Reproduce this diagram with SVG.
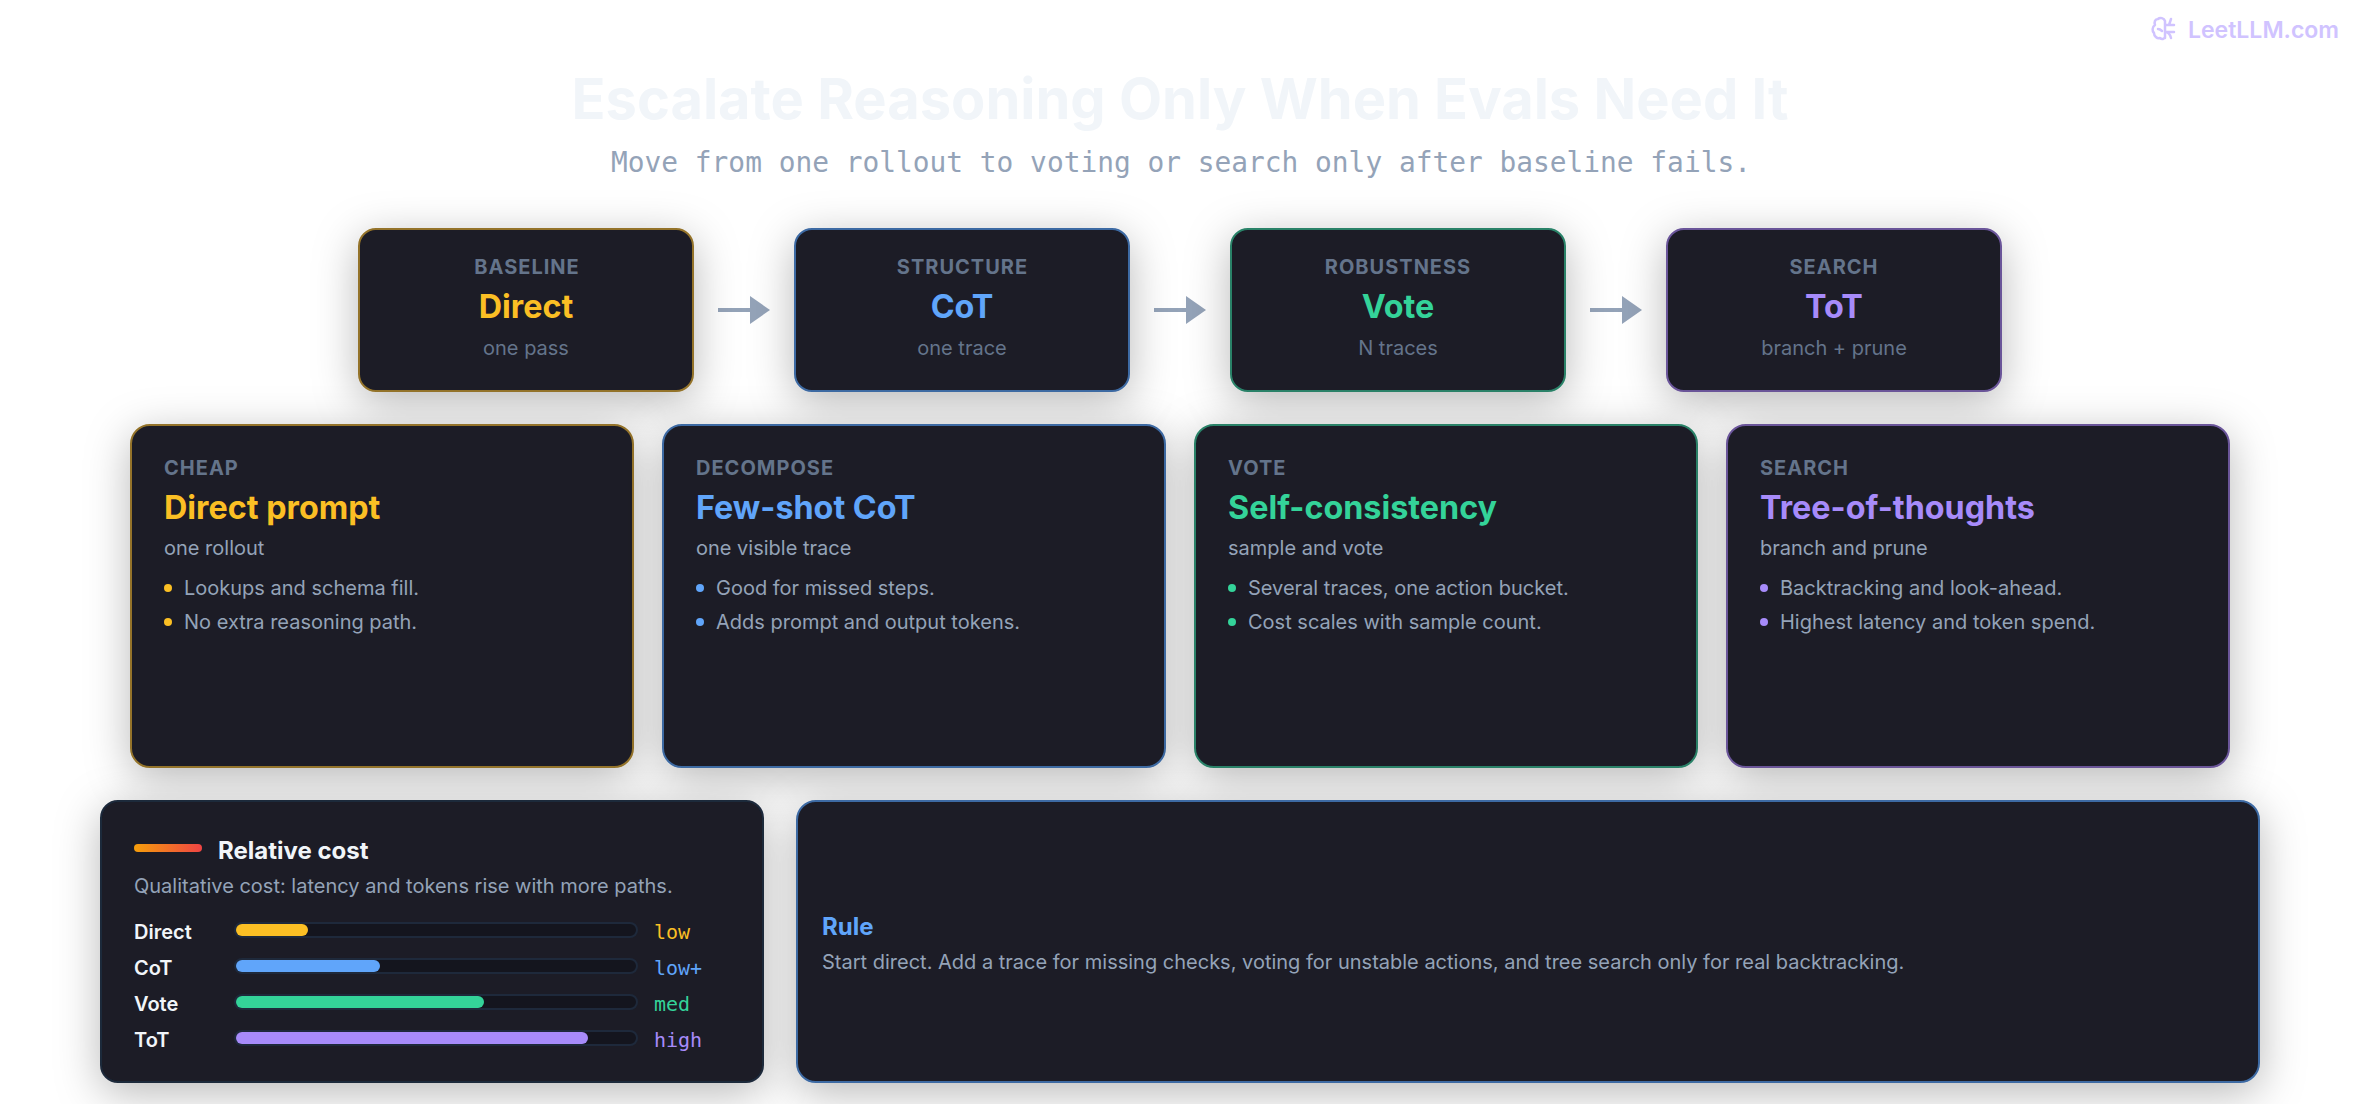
<svg xmlns="http://www.w3.org/2000/svg" width="2360" height="1104" viewBox="0 0 2360 1104">
<style>
text{font-family:Inter,"Noto Sans",sans-serif}
.mono{font-family:"DejaVu Sans Mono","Liberation Mono",monospace}
.card{fill:#1a1b26;stroke-width:2;filter:url(#sh)}
.gold{stroke:#94732a}.blue{stroke:#3e6aa3}.green{stroke:#2a8268}.purple{stroke:#6a5499}.slate{stroke:#1e293b}
.tgold{fill:#fbbf24}.tblue{fill:#60a5fa}.tgreen{fill:#34d399}.tpurple{fill:#a78bfa}
.eyebrow{font-size:20px;font-weight:700;letter-spacing:1px;fill:#64748b}
.name{font-size:32.3px;font-weight:700}
.sub{font-size:20px;fill:#64748b}
.msub{font-size:20px;fill:#94a3b8}
.li{font-size:20px;fill:#94a3b8}
.c{text-anchor:middle}
.row{font-size:20px;font-weight:600;fill:#f1f5f9}
.val{font-size:20px}
.track{fill:#14151e;stroke:#1e293b;stroke-width:2}
.arrow{stroke:#94a3b8;stroke-width:4;fill:none}
.head{fill:#94a3b8}
</style>
<defs>
<filter id="sh" x="-30%" y="-30%" width="160%" height="170%"><feDropShadow dx="0" dy="10" stdDeviation="22" flood-color="#000" flood-opacity="0.28"/></filter>
<linearGradient id="grad" x1="0" x2="1" y1="0" y2="0"><stop offset="0" stop-color="#f59e0b"/><stop offset="1" stop-color="#ef4444"/></linearGradient>
</defs>
<rect width="2360" height="1104" fill="#ffffff"/>
<g id="logo">
<path d="M2165 21c-1-3-5-4-7-2-3 0-4 3-3 6-3 2-3 6-1 8 0 3 3 6 6 5 2 2 4 1 5-1zM2165 21v17M2158 29c2 0 3 1 4 2M2165 25h9M2165 32h9M2165 32c3 0 5 2 6 6M2171 19l-2 6" fill="none" stroke="#d0c3ff" stroke-width="2.5" stroke-linecap="round" stroke-linejoin="round"/>
<text x="2188" y="38" font-size="23" font-weight="600" fill="#d0c3ff">LeetLLM.com</text>
</g>
<text id="title" x="1180" y="119" class="c" font-size="56" font-weight="700" fill="#f1f5f9">Escalate Reasoning Only When Evals Need It</text>
<text id="subtitle" x="1181" y="172" class="c mono" font-size="27.85" fill="#94a3b8">Move from one rollout to voting or search only after baseline fails.</text>

<g id="connectors">
<path class="arrow" d="M718 310H752"/><path class="head" d="M750 296L770 310L750 324Z"/>
<path class="arrow" d="M1154 310H1188"/><path class="head" d="M1186 296L1206 310L1186 324Z"/>
<path class="arrow" d="M1590 310H1624"/><path class="head" d="M1622 296L1642 310L1622 324Z"/>
</g>

<g id="step-direct">
<rect class="card gold" x="359" y="229" width="334" height="162" rx="17"/>
<text class="eyebrow c" x="527" y="274">BASELINE</text>
<text class="name c tgold" x="526" y="318">Direct</text>
<text class="sub c" x="526" y="355">one pass</text>
</g>
<g id="step-cot">
<rect class="card blue" x="795" y="229" width="334" height="162" rx="17"/>
<text class="eyebrow c" x="962.5" y="274">STRUCTURE</text>
<text class="name c tblue" x="962" y="318">CoT</text>
<text class="sub c" x="962" y="355">one trace</text>
</g>
<g id="step-vote">
<rect class="card green" x="1231" y="229" width="334" height="162" rx="17"/>
<text class="eyebrow c" x="1398" y="274">ROBUSTNESS</text>
<text class="name c tgreen" x="1398" y="318">Vote</text>
<text class="sub c" x="1398" y="355">N traces</text>
</g>
<g id="step-tot">
<rect class="card purple" x="1667" y="229" width="334" height="162" rx="17"/>
<text class="eyebrow c" x="1834" y="274">SEARCH</text>
<text class="name c tpurple" x="1834" y="318">ToT</text>
<text class="sub c" x="1834" y="355">branch + prune</text>
</g>

<g id="card-direct">
<rect class="card gold" x="131" y="425" width="502" height="342" rx="19"/>
<text class="eyebrow" x="164" y="475">CHEAP</text>
<text class="name tgold" x="164" y="519">Direct prompt</text>
<text class="msub" x="164" y="555">one rollout</text>
<circle class="tgold" cx="168" cy="588" r="4"/><text class="li" x="184" y="595">Lookups and schema fill.</text>
<circle class="tgold" cx="168" cy="622" r="4"/><text class="li" x="184" y="629">No extra reasoning path.</text>
</g>
<g id="card-cot">
<rect class="card blue" x="663" y="425" width="502" height="342" rx="19"/>
<text class="eyebrow" x="696" y="475">DECOMPOSE</text>
<text class="name tblue" x="696" y="519">Few-shot CoT</text>
<text class="msub" x="696" y="555">one visible trace</text>
<circle class="tblue" cx="700" cy="588" r="4"/><text class="li" x="716" y="595">Good for missed steps.</text>
<circle class="tblue" cx="700" cy="622" r="4"/><text class="li" x="716" y="629">Adds prompt and output tokens.</text>
</g>
<g id="card-vote">
<rect class="card green" x="1195" y="425" width="502" height="342" rx="19"/>
<text class="eyebrow" x="1228" y="475">VOTE</text>
<text class="name tgreen" x="1228" y="519">Self-consistency</text>
<text class="msub" x="1228" y="555">sample and vote</text>
<circle class="tgreen" cx="1232" cy="588" r="4"/><text class="li" x="1248" y="595">Several traces, one action bucket.</text>
<circle class="tgreen" cx="1232" cy="622" r="4"/><text class="li" x="1248" y="629">Cost scales with sample count.</text>
</g>
<g id="card-tot">
<rect class="card purple" x="1727" y="425" width="502" height="342" rx="19"/>
<text class="eyebrow" x="1760" y="475">SEARCH</text>
<text class="name tpurple" x="1760" y="519">Tree-of-thoughts</text>
<text class="msub" x="1760" y="555">branch and prune</text>
<circle class="tpurple" cx="1764" cy="588" r="4"/><text class="li" x="1780" y="595">Backtracking and look-ahead.</text>
<circle class="tpurple" cx="1764" cy="622" r="4"/><text class="li" x="1780" y="629">Highest latency and token spend.</text>
</g>

<g id="cost-panel">
<rect class="card slate" x="101" y="801" width="662" height="281" rx="17"/>
<rect x="134" y="844" width="68" height="8" rx="4" fill="url(#grad)"/>
<text x="218" y="859" font-size="24" font-weight="700" fill="#f1f5f9">Relative cost</text>
<text class="msub" x="134" y="893">Qualitative cost: latency and tokens rise with more paths.</text>
<text class="row" x="134" y="939">Direct</text>
<rect class="track" x="235" y="923" width="402" height="14" rx="7"/>
<rect class="tgold" x="236" y="924" width="72" height="12" rx="6"/>
<text class="val mono tgold" x="654" y="939">low</text>
<text class="row" x="134" y="975">CoT</text>
<rect class="track" x="235" y="959" width="402" height="14" rx="7"/>
<rect class="tblue" x="236" y="960" width="144" height="12" rx="6"/>
<text class="val mono tblue" x="654" y="975">low+</text>
<text class="row" x="134" y="1011">Vote</text>
<rect class="track" x="235" y="995" width="402" height="14" rx="7"/>
<rect class="tgreen" x="236" y="996" width="248" height="12" rx="6"/>
<text class="val mono tgreen" x="654" y="1011">med</text>
<text class="row" x="134" y="1047">ToT</text>
<rect class="track" x="235" y="1031" width="402" height="14" rx="7"/>
<rect class="tpurple" x="236" y="1032" width="352" height="12" rx="6"/>
<text class="val mono tpurple" x="654" y="1047">high</text>
</g>
<g id="rule-panel">
<rect class="card blue" x="797" y="801" width="1462" height="281" rx="19"/>
<text class="tblue" x="822" y="935" font-size="24" font-weight="700">Rule</text>
<text class="msub" x="822" y="969">Start direct. Add a trace for missing checks, voting for unstable actions, and tree search only for real backtracking.</text>
</g>
</svg>
